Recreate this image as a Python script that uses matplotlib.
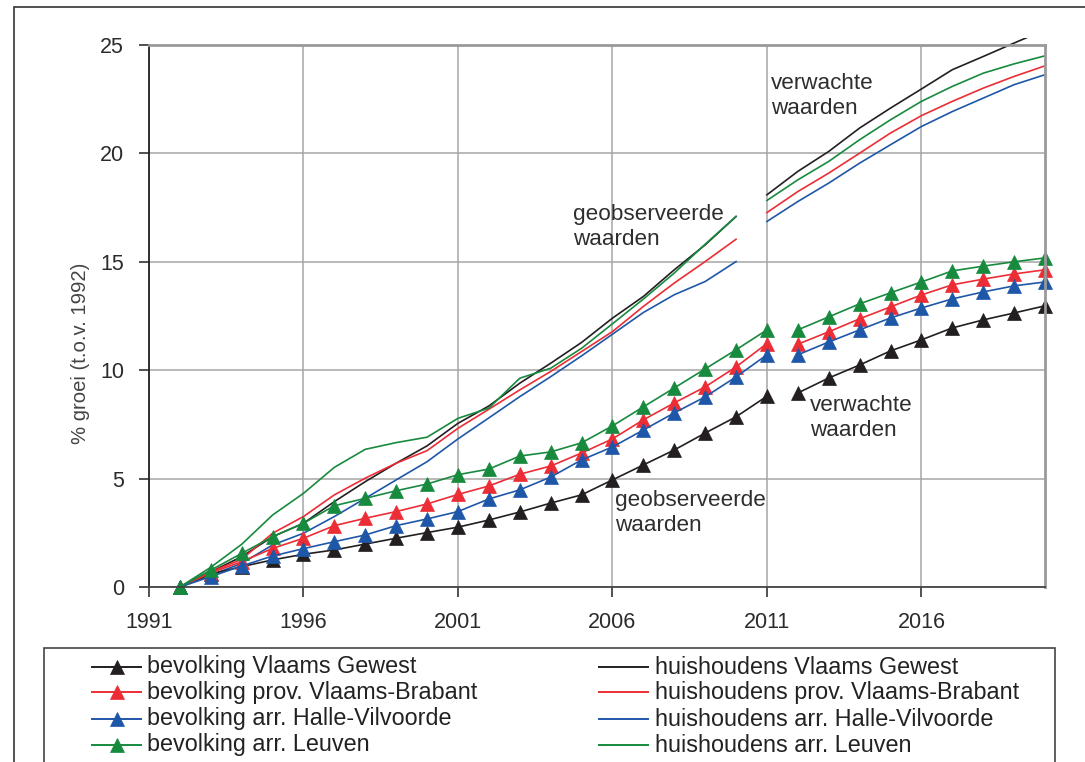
import matplotlib
matplotlib.use('Agg')
import matplotlib.pyplot as plt
from matplotlib.lines import Line2D
from matplotlib.patches import Rectangle
from matplotlib.transforms import Bbox, TransformedBbox

plt.rcParams['font.family'] = ['Liberation Sans', 'DejaVu Sans']

# years
bev_years_obs = list(range(1992, 2012))
bev_years_proj = list(range(2012, 2021))
hh_years_obs = list(range(1992, 2011))
hh_years_proj = list(range(2011, 2021))

# % growth of population (bevolking), observed and projected
bev_vlaams_obs = [0, 0.60, 0.94, 1.25, 1.51, 1.71, 1.98, 2.25, 2.51, 2.76, 3.09, 3.46, 3.87, 4.25, 4.94, 5.63, 6.32, 7.10, 7.85, 8.80]
bev_vlaams_proj = [8.95, 9.64, 10.24, 10.89, 11.40, 11.95, 12.32, 12.64, 12.97]
bev_brabant_obs = [0, 0.65, 1.17, 1.78, 2.25, 2.83, 3.17, 3.48, 3.83, 4.27, 4.66, 5.20, 5.58, 6.18, 6.83, 7.71, 8.49, 9.23, 10.15, 11.23]
bev_brabant_proj = [11.20, 11.77, 12.37, 12.92, 13.47, 13.94, 14.20, 14.44, 14.63]
bev_halle_obs = [0, 0.48, 0.97, 1.43, 1.77, 2.09, 2.40, 2.83, 3.14, 3.48, 4.06, 4.48, 5.07, 5.86, 6.46, 7.24, 8.03, 8.77, 9.69, 10.71]
bev_halle_proj = [10.71, 11.30, 11.86, 12.41, 12.87, 13.29, 13.61, 13.89, 14.07]
bev_leuven_obs = [0, 0.78, 1.55, 2.32, 2.94, 3.75, 4.09, 4.44, 4.75, 5.18, 5.44, 6.04, 6.23, 6.65, 7.43, 8.31, 9.18, 10.06, 10.94, 11.86]
bev_leuven_proj = [11.86, 12.46, 13.06, 13.57, 14.07, 14.58, 14.80, 15.00, 15.18]

# % growth of households (huishoudens), observed and projected
hh_vlaams_obs = [0, 0.70, 1.40, 2.32, 2.94, 3.94, 4.86, 5.71, 6.51, 7.55, 8.35, 9.40, 10.32, 11.28, 12.40, 13.40, 14.63, 15.78, 17.09]
hh_vlaams_proj = [18.09, 19.17, 20.09, 21.17, 22.09, 22.97, 23.86, 24.47, 25.09, 25.70]
hh_brabant_obs = [0, 0.70, 1.28, 2.48, 3.25, 4.25, 5.02, 5.71, 6.29, 7.32, 8.20, 9.09, 9.94, 10.86, 11.78, 12.94, 14.02, 15.01, 16.04]
hh_brabant_proj = [17.27, 18.24, 19.09, 20.01, 20.94, 21.74, 22.40, 23.01, 23.55, 24.04]
hh_halle_obs = [0, 0.55, 1.09, 1.94, 2.48, 3.25, 4.09, 4.94, 5.78, 6.83, 7.80, 8.78, 9.70, 10.66, 11.66, 12.66, 13.48, 14.09, 15.01]
hh_halle_proj = [16.86, 17.78, 18.63, 19.55, 20.40, 21.24, 21.93, 22.55, 23.17, 23.63]
hh_leuven_obs = [0, 0.91, 1.97, 3.32, 4.32, 5.52, 6.35, 6.66, 6.91, 7.78, 8.25, 9.63, 10.09, 11.01, 12.14, 13.28, 14.48, 15.81, 17.09]
hh_leuven_proj = [17.83, 18.78, 19.63, 20.63, 21.55, 22.40, 23.09, 23.70, 24.13, 24.50]

colors = ['#231f20', '#ec2d35', '#1f57a8', '#178a3e']
bev_labels = ['bevolking Vlaams Gewest', 'bevolking prov. Vlaams-Brabant',
              'bevolking arr. Halle-Vilvoorde', 'bevolking arr. Leuven']
hh_labels = ['huishoudens Vlaams Gewest', 'huishoudens prov. Vlaams-Brabant',
             'huishoudens arr. Halle-Vilvoorde', 'huishoudens arr. Leuven']

bev_obs = [bev_vlaams_obs, bev_brabant_obs, bev_halle_obs, bev_leuven_obs]
bev_proj = [bev_vlaams_proj, bev_brabant_proj, bev_halle_proj, bev_leuven_proj]
hh_obs = [hh_vlaams_obs, hh_brabant_obs, hh_halle_obs, hh_leuven_obs]
hh_proj = [hh_vlaams_proj, hh_brabant_proj, hh_halle_proj, hh_leuven_proj]

W, H = 1085, 762
fig = plt.figure(figsize=(W / 100, H / 100), dpi=100)
ax = fig.add_axes([149 / W, 1 - 587 / H, (1045 - 149) / W, (587 - 45) / H])

# lines may run a little past the frame, as in the original
clip = TransformedBbox(Bbox([[-0.01, -0.02], [1.012, 1.012]]), ax.transAxes)

for c, o, p in zip(colors, hh_obs, hh_proj):
    for xs, ys in ((hh_years_obs, o), (hh_years_proj, p)):
        ln, = ax.plot(xs, ys, color=c, lw=1.2)
        ln.set_clip_box(clip)

for c, o, p in zip(colors, bev_obs, bev_proj):
    for xs, ys in ((bev_years_obs, o), (bev_years_proj, p)):
        ln, = ax.plot(xs, ys, color=c, lw=1.2, marker='^', markersize=9.5,
                      markeredgewidth=0.5, markeredgecolor=c)
        ln.set_clip_box(clip)
        ln.set_clip_on(False)

ax.set_xlim(1991, 2020)
ax.set_ylim(0, 25)
ax.set_xticks(range(1991, 2020, 5))
ax.set_yticks(range(0, 26, 5))
ax.grid(True, color='#a6a6a6', lw=1.1)
ax.set_axisbelow(True)
ax.tick_params(axis='both', direction='out', length=7, width=1.2, color='#333333',
               labelsize=15.5, labelcolor='#2b2b2b', pad=11)
ax.spines['left'].set_color('#222222')
ax.spines['bottom'].set_color('#444444')
ax.spines['left'].set_linewidth(1.3)
ax.spines['bottom'].set_linewidth(1.3)
for s in ('top', 'right'):
    ax.spines[s].set_color('#999999')
    ax.spines[s].set_linewidth(2)

fig.text(80 / W, 1 - 353 / H, '% groei (t.o.v. 1992)', rotation=90, ha='center', va='center',
         fontsize=14.6, color='#444444')

ann = dict(fontsize=16.2, color='#2e2e2e', ha='left', va='center', linespacing=1.25)
ax.text(2004.72, 16.61, 'geobserveerde\nwaarden', **ann)
ax.text(2006.08, 3.41, 'geobserveerde\nwaarden', **ann)
ax.text(2011.13, 22.66, 'verwachte\nwaarden', **ann)
ax.text(2012.39, 7.78, 'verwachte\nwaarden', **ann)

# outer frame and legend box (both run past the bottom edge)
fig.add_artist(Rectangle((14 / W, -0.2), 1.2, 0.2 + 1 - 7 / H,
                         transform=fig.transFigure, fill=False, ec='#333333', lw=1.2))
fig.add_artist(Rectangle((44 / W, -0.2), (1055 - 44) / W, 0.2 + 1 - 648 / H,
                         transform=fig.transFigure, fill=False, ec='#444444', lw=1.2))

row_y = [667, 692, 719, 745]
for i in range(4):
    yy = 1 - row_y[i] / H
    fig.add_artist(Line2D([92 / W, 141 / W], [yy, yy], transform=fig.transFigure,
                          color=colors[i], lw=1.4))
    fig.add_artist(Line2D([116.5 / W], [yy], transform=fig.transFigure, color=colors[i],
                          marker='^', markersize=9.5, markeredgewidth=0.5))
    fig.text(147 / W, yy, bev_labels[i], fontsize=16.8, color='#222222', va='center')
    fig.add_artist(Line2D([599 / W, 648 / W], [yy, yy], transform=fig.transFigure,
                          color=colors[i], lw=1.4))
    fig.text(655 / W, yy, hh_labels[i], fontsize=16.8, color='#222222', va='center')

fig.savefig('out.png', dpi=100)
